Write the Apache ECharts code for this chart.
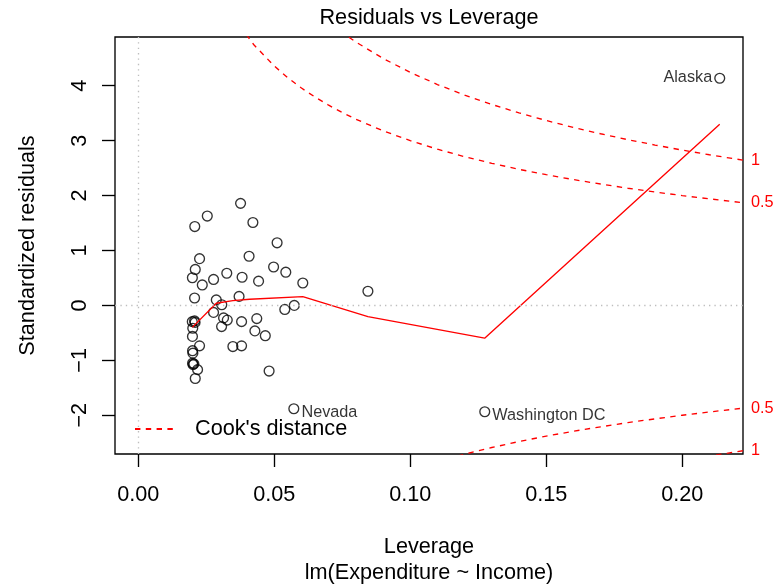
<!DOCTYPE html>
<html>
<head>
<meta charset="utf-8">
<title>Residuals vs Leverage</title>
<script src="https://cdn.jsdelivr.net/npm/echarts@6.0.0/dist/echarts.min.js"></script>
<style>
  html, body { margin: 0; padding: 0; background: #ffffff; }
  #chart { width: 773px; height: 587px; }
</style>
</head>
<body>
<div id="chart"></div>
<script>
// Leverage (hat value) of each unlabelled state
const pointLeverage = [
  0.03762, 0.02538, 0.02078, 0.04215, 0.05105, 0.02254, 0.04075, 0.02096,
  0.01990, 0.02354, 0.02769, 0.03255, 0.03818, 0.04424, 0.04976, 0.05425,
  0.06050, 0.02071, 0.02869, 0.03071, 0.03707, 0.05388, 0.05737, 0.02769,
  0.03137, 0.03273, 0.03064, 0.03799, 0.04358, 0.01986, 0.02071, 0.02004,
  0.01993, 0.04288, 0.04671, 0.03479, 0.03799, 0.02254, 0.01997, 0.02008,
  0.01997, 0.02045, 0.02181, 0.02096, 0.04811, 0.08444, 0.02015, 0.02089
];
// Standardized residual of each unlabelled state
const pointResidual = [
  1.858, 1.627, 1.436, 1.509, 1.140, 0.851, 0.895, 0.655,
  0.504, 0.373, 0.473, 0.585, 0.513, 0.442, 0.700, 0.605,
  0.409, 0.136, 0.100, 0.013, 0.164, -0.073, 0.000, -0.127,
  -0.227, -0.267, -0.385, -0.295, -0.240, -0.295, -0.282, -0.415,
  -0.564, -0.464, -0.551, -0.749, -0.736, -0.736, -0.824, -0.869,
  -1.051, -1.064, -1.169, -1.331, -1.195, 0.258, -1.078, -0.309
];

// The most extreme observations, named on the plot
const namedStates = ['Alaska', 'Nevada', 'Washington DC'];
const namedLeverage = [0.2138, 0.0572, 0.1274];
const namedResidual = [4.136, -1.882, -1.936];

// Smoothed trend of the residuals against leverage
const smoothLeverage = [0.01986, 0.02869, 0.03479, 0.04093, 0.06050, 0.08444, 0.12736, 0.21379];
const smoothResidual = [-0.400, 0.040, 0.087, 0.113, 0.160, -0.204, -0.596, 3.300];

// Cook's distance contours (0.5 and 1) sampled along the leverage axis
const cookLeverage = [
  0.035, 0.0425, 0.05, 0.055, 0.06, 0.065, 0.07, 0.075, 0.08, 0.09, 0.10, 0.11,
  0.12, 0.13, 0.14, 0.15, 0.16, 0.17, 0.18, 0.19, 0.20, 0.21, 0.22235
];
const cookHalfUpper = [
  5.251, 4.746, 4.359, 4.145, 3.958, 3.793, 3.645, 3.512, 3.391, 3.180, 3.000, 2.844,
  2.708, 2.587, 2.478, 2.380, 2.291, 2.210, 2.134, 2.065, 2.000, 1.940, 1.870
];
const cookHalfLower = [
  -5.251, -4.746, -4.359, -4.145, -3.958, -3.793, -3.645, -3.512, -3.391, -3.180, -3.000, -2.844,
  -2.708, -2.587, -2.478, -2.380, -2.291, -2.210, -2.134, -2.065, -2.000, -1.940, -1.870
];
const cookOneUpper = [
  7.426, 6.712, 6.164, 5.862, 5.598, 5.364, 5.155, 4.967, 4.796, 4.497, 4.243, 4.022,
  3.830, 3.659, 3.505, 3.367, 3.240, 3.125, 3.018, 2.920, 2.828, 2.743, 2.645
];
const cookOneLower = [
  -7.426, -6.712, -6.164, -5.862, -5.598, -5.364, -5.155, -4.967, -4.796, -4.497, -4.243, -4.022,
  -3.830, -3.659, -3.505, -3.367, -3.240, -3.125, -3.018, -2.920, -2.828, -2.743, -2.645
];
const cookLevelLabels = ['0.5', '1'];

// Axis ticks and plotting ranges
const xTicks = [0, 0.05, 0.10, 0.15, 0.20];
const yTicks = [-2, -1, 0, 1, 2, 3, 4];
const xRange = [-0.00855, 0.22235];
const yRange = [-2.705, 4.887];

const FONT = "'Liberation Sans', Arial, Helvetica, sans-serif";
const BASE = 21.67;
const SMALL = 16.25;
const RED = '#ff0000';
const LW = 1.35;

// which side of its point each name is written on
const namedSide = ['left', 'right', 'right'];

const zip = (xs, ys) => xs.map((x, i) => [x, ys[i]]);
const minus = v => (v < 0 ? '\u2212' + Math.abs(v) : String(v));

const namedData = namedStates.map((name, i) => {
  const left = namedSide[i] === 'left';
  return {
    name: name,
    value: [namedLeverage[i], namedResidual[i]],
    label: {
      position: left ? 'left' : 'right',
      distance: 2,
      offset: left ? [0, -0.5] : [0, 4]
    }
  };
});

const circleStyle = {
  color: 'rgba(0,0,0,0)',
  borderColor: '#000000',
  borderWidth: LW
};

function cookSeries(values, label) {
  return {
    type: 'line',
    name: "Cook's distance",
    data: zip(cookLeverage, values),
    symbol: 'none',
    showSymbol: false,
    clip: true,
    silent: true,
    z: 3,
    lineStyle: { color: RED, width: LW, type: [5.4, 5.4] },
    itemStyle: { color: RED },
    endLabel: {
      show: true,
      formatter: () => label,
      color: RED,
      fontSize: SMALL,
      fontFamily: FONT,
      distance: 8
    }
  };
}

const chart = echarts.init(document.getElementById('chart'), null, { renderer: 'canvas' });

chart.setOption({
  animation: false,
  backgroundColor: '#ffffff',
  textStyle: { fontFamily: FONT },
  grid: {
    left: 115, right: 30, top: 37, bottom: 133,
    outerBoundsMode: 'none',
    containLabel: false,
    show: true, borderColor: '#000000', borderWidth: LW,
    backgroundColor: 'rgba(0,0,0,0)'
  },
  graphic: [{
    type: 'text',
    x: 429, y: 18,
    style: {
      text: 'Residuals vs Leverage',
      fontSize: BASE, fontFamily: FONT, fill: '#000000',
      textAlign: 'center', textVerticalAlign: 'middle', verticalAlign: 'middle'
    }
  }],
  legend: {
    data: ["Cook's distance"],
    left: 134, top: 418,
    padding: 0,
    itemWidth: 38, itemHeight: 14,
    selectedMode: false,
    itemStyle: { opacity: 0 },
    textStyle: { fontSize: BASE, fontFamily: FONT, color: '#000000', padding: [0, 0, 0, 17] }
  },
  xAxis: {
    type: 'value',
    min: xRange[0], max: xRange[1],
    axisLine: { show: false, onZero: false },
    splitLine: { show: false },
    axisTick: { show: true, length: 13, customValues: xTicks, lineStyle: { color: '#000000', width: LW } },
    axisLabel: {
      customValues: xTicks, margin: 30.4,
      formatter: v => v.toFixed(2),
      fontSize: BASE, fontFamily: FONT, color: '#000000'
    },
    name: 'Leverage\nlm(Expenditure ~ Income)',
    nameLocation: 'middle',
    nameGap: 80.2,
    nameTextStyle: { fontSize: BASE, fontFamily: FONT, color: '#000000', lineHeight: 26 }
  },
  yAxis: {
    type: 'value',
    min: yRange[0], max: yRange[1],
    axisLine: { show: false, onZero: false },
    splitLine: { show: false },
    axisTick: { show: true, length: 13, customValues: yTicks, lineStyle: { color: '#000000', width: LW } },
    axisLabel: {
      customValues: yTicks, rotate: 90, margin: 23.5,
      formatter: minus,
      fontSize: BASE, fontFamily: FONT, color: '#000000'
    },
    name: 'Standardized residuals',
    nameLocation: 'middle',
    nameRotate: 90,
    nameGap: 76,
    nameTextStyle: { fontSize: BASE, fontFamily: FONT, color: '#000000' }
  },
  series: [
    {
      type: 'scatter',
      name: 'states',
      data: zip(pointLeverage, pointResidual),
      symbol: 'circle',
      symbolSize: 9.8,
      silent: true,
      z: 2,
      itemStyle: circleStyle,
      markLine: {
        silent: true,
        symbol: ['none', 'none'],
        label: { show: false },
        lineStyle: { color: '#bebebe', type: [1.35, 4.05], width: LW },
        data: [{ xAxis: 0 }, { yAxis: 0 }]
      }
    },
    {
      type: 'scatter',
      name: 'named states',
      data: namedData,
      symbol: 'circle',
      symbolSize: 9.8,
      silent: true,
      z: 2,
      itemStyle: circleStyle,
      label: {
        show: true,
        formatter: p => p.name,
        color: '#000000',
        fontSize: SMALL,
        fontFamily: FONT
      }
    },
    {
      type: 'line',
      name: 'smooth',
      data: zip(smoothLeverage, smoothResidual),
      symbol: 'none',
      showSymbol: false,
      silent: true,
      z: 4,
      lineStyle: { color: RED, width: LW, type: 'solid' }
    },
    cookSeries(cookHalfUpper, cookLevelLabels[0]),
    cookSeries(cookOneUpper, cookLevelLabels[1]),
    cookSeries(cookHalfLower, cookLevelLabels[0]),
    cookSeries(cookOneLower, cookLevelLabels[1])
  ]
});
</script>
</body>
</html>
